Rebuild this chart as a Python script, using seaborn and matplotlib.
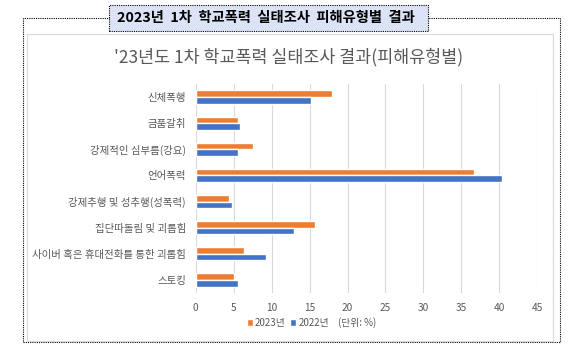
import pandas as pd
import seaborn as sns
import matplotlib.pyplot as plt
from matplotlib.patches import Rectangle

categories = ['신체폭행', '금품갈취', '강제적인 심부름(강요)', '언어폭력',
              '강제추행 및 성추행(성폭력)', '집단따돌림 및 괴롭힘',
              '사이버 혹은 휴대전화를 통한 괴롭힘', '스토킹']
y2023 = [18.0, 5.6, 7.5, 36.7, 4.4, 15.7, 6.3, 5.1]
y2022 = [15.2, 5.8, 5.6, 40.3, 4.8, 12.9, 9.2, 5.6]
years = ['2023년', '2022년']
xticks = [0, 5, 10, 15, 20, 25, 30, 35, 40, 45]

df = pd.DataFrame({
    '유형': categories * 2,
    '비율': y2023 + y2022,
    '연도': [years[0]] * len(categories) + [years[1]] * len(categories),
})

sns.set_theme(style='white')
plt.rcParams['font.family'] = ['Noto Sans CJK KR', 'DejaVu Sans']

W, H = 576, 363
fig = plt.figure(figsize=(W / 100, H / 100), dpi=100)

# 바깥 점선 테두리와 안쪽 차트 테두리
fig.add_artist(Rectangle((23 / W, 1 - 342 / H), (560 - 23) / W, (342 - 18) / H,
                         transform=fig.transFigure, fill=False, ec='black',
                         lw=0.8, ls=(0, (1, 1)), zorder=1))
fig.add_artist(Rectangle((27 / W, 1 - 341 / H), (553 - 27) / W, (341 - 34) / H,
                         transform=fig.transFigure, fill=False, ec='#d9d9d9',
                         lw=0.8, zorder=1))
# 제목 상자
fig.add_artist(Rectangle((109 / W, 1 - 30.7 / H), (428 - 109) / W, 25.7 / H,
                         transform=fig.transFigure, fc='#dde3f6', ec='black',
                         lw=0.8, ls=(0, (1, 1)), zorder=2))
fig.text(266 / W, 1 - 17.8 / H, '2023년  1차  학교폭력  실태조사  피해유형별  결과',
         ha='center', va='center', fontsize=10.3, fontweight='bold',
         color='black', zorder=3)

fig.text(289 / W, 1 - 57 / H, "'23년도 1차 학교폭력 실태조사 결과(피해유형별)",
         ha='center', va='center', fontsize=12.5, fontweight='medium',
         color='#595959')

ax = fig.add_axes([195.7 / W, 1 - 293 / H, (537.3 - 195.7) / W, 209 / H])
sns.barplot(data=df, y='유형', x='비율', hue='연도', hue_order=years,
            palette=['#ED7D31', '#4472C4'], width=0.51, orient='h',
            saturation=1, ax=ax)

ax.set_xlim(0, 45)
ax.set_xticks(xticks)
ax.set_xlabel('')
ax.set_ylabel('')
for s in ax.spines.values():
    s.set_visible(False)
ax.grid(axis='x', color='#d9d9d9', lw=0.8)
ax.set_axisbelow(True)
ax.tick_params(axis='both', length=0, colors='#595959')
ax.tick_params(axis='y', labelsize=7.5, pad=7)
ax.tick_params(axis='x', labelsize=7.3, pad=7)

handles, labels = ax.get_legend_handles_labels()
ax.legend(handles, labels, loc='center', bbox_to_anchor=(288 / W, 1 - 323 / H),
          bbox_transform=fig.transFigure, ncol=2, frameon=False, fontsize=7,
          handlelength=0.6, handleheight=0.6, handletextpad=0.2,
          columnspacing=0.5, labelcolor='#595959')
fig.text(357 / W, 1 - 323 / H, '(단위: %)', ha='center', va='center',
         fontsize=7, color='#595959')

fig.savefig('out.png', dpi=100)
